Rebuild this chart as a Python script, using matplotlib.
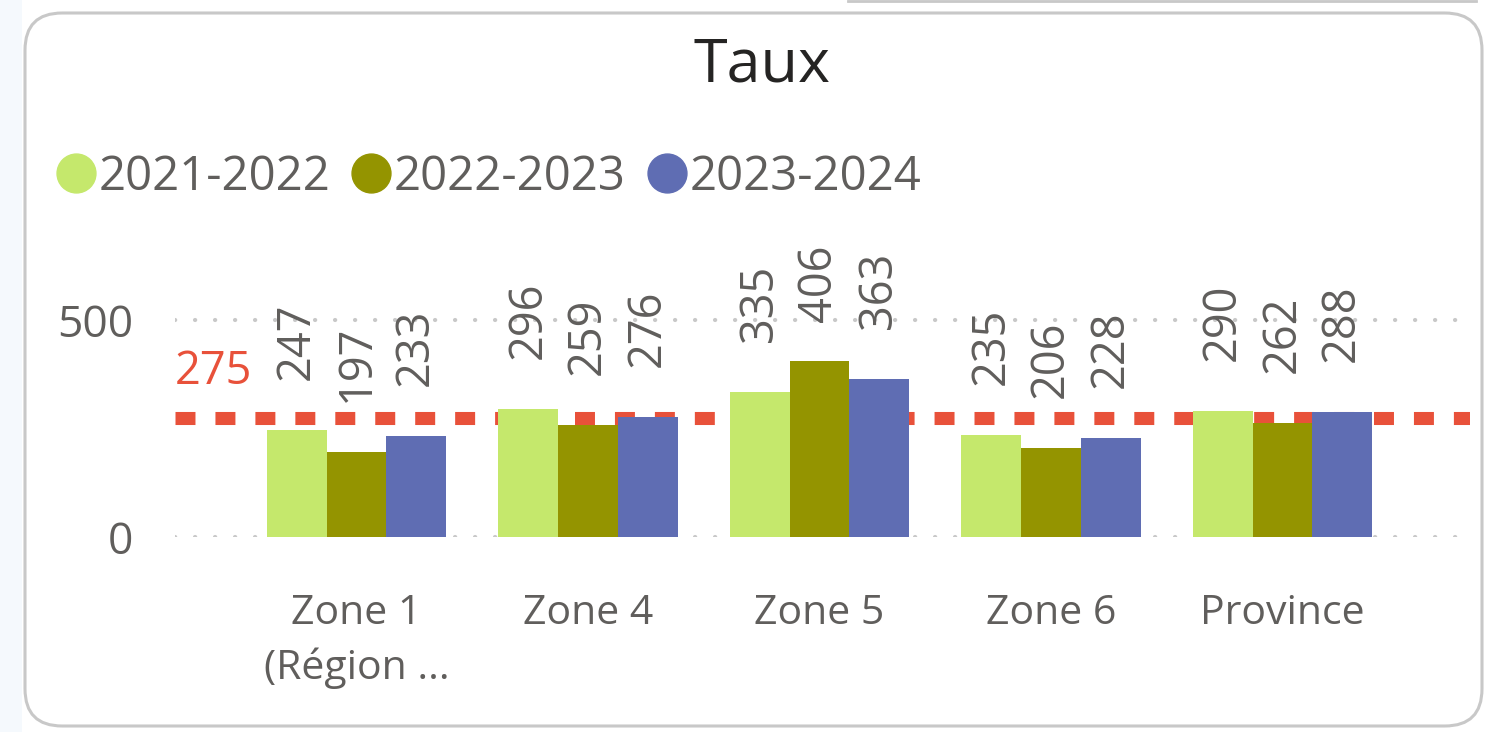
import numpy as np
import matplotlib.pyplot as plt
from matplotlib.patches import FancyBboxPatch, Rectangle
from matplotlib.lines import Line2D

# données
categories = ['Zone 1\n(Région ...', 'Zone 4', 'Zone 5', 'Zone 6', 'Province']
series_names = ['2021-2022', '2022-2023', '2023-2024']
v_2021 = [247, 296, 335, 235, 290]
v_2022 = [197, 259, 406, 206, 262]
v_2023 = [233, 276, 363, 228, 288]
ref_value = 275
y_ticks = [0, 500]

colors = ['#C5E86C', '#949400', '#5F6DB3']
red = '#E8513A'
grey_txt = '#605E5C'

plt.rcParams['font.family'] = ['Open Sans', 'DejaVu Sans']

W, H = 1487, 732
fig = plt.figure(figsize=(W / 100, H / 100), dpi=100)

# fond / carte
fig.patches.append(Rectangle((0, 0), 22 / W, 1, transform=fig.transFigure,
                             facecolor='#F5F9FD', edgecolor='none', zorder=-2))
fig.patches.append(FancyBboxPatch((25 / W, 6 / H), (1457) / W, (713) / H,
                                  boxstyle='round,pad=0,rounding_size=0.025',
                                  transform=fig.transFigure, facecolor='white',
                                  edgecolor='#C8C8C8', linewidth=2.2, zorder=-1,
                                  mutation_aspect=W / H))
fig.add_artist(Line2D([848 / W, 1476 / W], [1 - 1 / H, 1 - 1 / H], color='#C8C8C8',
                      linewidth=2.0, transform=fig.transFigure))

# axes
x0, x1 = 175, 1470
y_bot, y_top = 537, 247
ax = fig.add_axes([x0 / W, (H - y_bot) / H, (x1 - x0) / W, (y_bot - y_top) / H])
ax.set_zorder(2)
ax.set_facecolor('none')
px_per_unit = 217 / 500
ymax = (y_bot - y_top) / px_per_unit
ax.set_ylim(0, ymax)
ax.set_xlim(-0.784, 4.81)

x = np.arange(len(categories))
bw = 0.258
all_vals = [v_2021, v_2022, v_2023]
for i, vals in enumerate(all_vals):
    xs = x + (i - 1) * bw
    ax.bar(xs, vals, width=bw, color=colors[i], zorder=3)
    for xi, v in zip(xs, vals):
        ly = min(v + 50 / px_per_unit, ymax - 75 / px_per_unit)
        ax.text(xi, ly, str(v), rotation=90, ha='center', va='bottom',
                fontsize=32.5, color=grey_txt, zorder=5, clip_on=False)

# grille pointillée
for t in y_ticks:
    ax.axhline(t, color='#C8C8C8', linewidth=3.0, dashes=(0.05, 4.75),
               dash_capstyle='round', zorder=1, xmax=0.993)

# ligne de référence
ax.axhline(ref_value, color=red, linewidth=9.4, dashes=(1.53, 1.53),
           dash_capstyle='butt', zorder=2)
ax.annotate(str(ref_value), xy=(0, ref_value), xycoords=('axes fraction', 'data'),
            xytext=(0, 16), textcoords='offset points', ha='left', va='bottom',
            fontsize=32.5, color=red)

ax.set_yticks(y_ticks)
ax.set_yticklabels([str(t) for t in y_ticks])
ax.set_xticks(x)
ax.set_xticklabels(categories, linespacing=1.4)
ax.tick_params(axis='y', length=0, pad=30, labelsize=32, labelcolor=grey_txt)
ax.tick_params(axis='x', length=0, pad=41, labelsize=29.5, labelcolor=grey_txt)
for s in ax.spines.values():
    s.set_visible(False)

# titre
fig.text(762 / W, 1 - 66 / H, 'Taux', ha='center', va='center', fontsize=44,
         color='#252423', fontweight='medium')

# légende
handles = [Line2D([], [], marker='o', linestyle='none', markersize=28,
                  markerfacecolor=c, markeredgecolor=c) for c in colors]
fig.legend(handles, series_names, loc='center left',
           bbox_to_anchor=(58 / W, 1 - 177 / H), ncol=3, frameon=False,
           fontsize=34, labelcolor=grey_txt, handlelength=0.75,
           handletextpad=0.1, columnspacing=0.5, borderaxespad=0,
           borderpad=0)

fig.savefig('out.png', dpi=100)
